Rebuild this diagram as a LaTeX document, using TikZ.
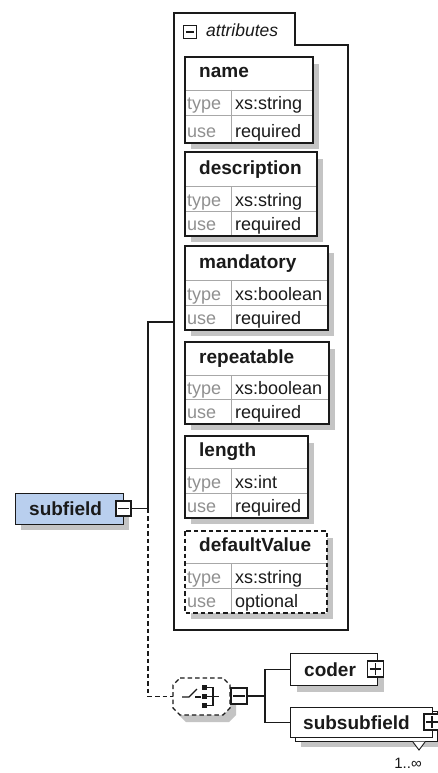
\documentclass[tikz,border=0pt]{standalone}
\usepackage{fontspec}
\setmainfont{Liberation Sans}
\definecolor{lnc}{HTML}{1A1A1A}
\definecolor{shdc}{HTML}{C4C4C4}
\definecolor{rowc}{HTML}{A8A8A8}
\definecolor{typc}{HTML}{909090}
\definecolor{bluef}{HTML}{B9CFEE}
\def\bxdash{solid}
\newcommand\attrbox[9]{%
  \fill[shdc] (191,#2+7) rectangle (#6+6,#5+6);
  \fill[white] (185,#2) rectangle (#6,#5);
  \draw[rowc,line width=0.9pt] (185,#3) -- (#6,#3);
  \draw[rowc,line width=0.9pt] (185,#4) -- (#6,#4);
  \draw[rowc,line width=0.9pt] (231,#3) -- (231,#5);
  \draw[lnc,line width=1.3pt,\bxdash] (185,#2) rectangle (#6,#5);
  \node[lbl] (#1-l) at (199,#3-12) {#7};
  \node[typ] (#1-t) at (187,#4-5) {type};
  \node[val] (#1-v) at (235,#4-5) {#8};
  \node[typ] (#1-u) at (187,#5-6) {use};
  \node[val] (#1-w) at (235,#5-6) {#9};
}
\begin{document}
\begin{tikzpicture}[x=1pt,y=-1pt,
  lbl/.style={anchor=base west,inner sep=0pt,font=\fontsize{19}{22}\selectfont\bfseries,text=lnc},
  typ/.style={anchor=base west,inner sep=0pt,font=\fontsize{18}{21}\selectfont,text=typc},
  val/.style={anchor=base west,inner sep=0pt,font=\fontsize{18}{21}\selectfont,text=lnc},
  ln/.style={draw=lnc,line width=1.3pt},
  dsh/.style={dash pattern=on 4.5pt off 3pt},
  boxn/.style={draw=lnc,line width=1.3pt,fill=white,inner sep=0pt,anchor=north west},
  pmbox/.style={draw=lnc,line width=1.2pt,fill=white,inner sep=0pt,minimum width=#1,minimum height=#1},
]
\useasboundingbox (0,0) rectangle (438,773);
\fill[white] (0,0) rectangle (438,773);

% attributes container
\draw[lnc,line width=1.4pt] (174,630) -- (174,13) -- (295,13) -- (295,45) -- (348,45) -- (348,630) -- cycle;
\coordinate (attrsL) at (174,322);
\node[pmbox=13pt] (attmin) at (190,32) {};
\draw[lnc,line width=1.1pt] ([xshift=3pt]attmin.west) -- ([xshift=-3pt]attmin.east);
\node[anchor=base west,inner sep=0pt,font=\fontsize{17.5}{20}\selectfont\itshape,text=lnc] (attlbl) at (206,37) {attributes};

\attrbox{name}{57}{90}{115}{143}{313}{name}{xs:string}{required}
\attrbox{desc}{152}{186}{211}{236}{317}{description}{xs:string}{required}
\attrbox{mand}{246}{280}{305}{330}{328}{mandatory}{xs:boolean}{required}
\attrbox{rep}{342}{375}{399}{424}{329}{repeatable}{xs:boolean}{required}
\attrbox{len}{436}{468}{493}{518}{308}{length}{xs:int}{required}
\def\bxdash{dsh}
\attrbox{defv}{531}{563}{588}{613}{327}{defaultValue}{xs:string}{optional}

% subfield
\fill[shdc] (21,500) rectangle (129,530);
\node[boxn,fill=bluef,minimum width=108pt,minimum height=31pt] (subfield) at (15,493) {};
\node[lbl] (subfield-l) at (29,515) {subfield};
\node[pmbox=15pt] (sfmin) at (123.5,508.5) {};
\draw[lnc,line width=1.1pt] ([xshift=3pt]sfmin.west) -- ([xshift=-3pt]sfmin.east);

\coordinate (j1) at (148,508.5);
\draw[ln] (sfmin.east) -- (j1) |- (attrsL);

% sequence compositor
\fill[shdc] (186,685) -- (229,685) -- (236,692) -- (236,715) -- (229,722) -- (186,722) -- (179,715) -- (179,692) -- cycle;
\fill[white] (180,678) -- (223,678) -- (230,685) -- (230,708) -- (223,715) -- (180,715) -- (173,708) -- (173,685) -- cycle;
\draw[lnc,line width=1.2pt,dsh] (180,678) -- (223,678) -- (230,685) -- (230,708) -- (223,715) -- (180,715) -- (173,708) -- (173,685) -- cycle;
\node[inner sep=0pt,minimum width=57pt,minimum height=37pt] (seq) at (201.5,696.5) {};
\draw[lnc,line width=1.2pt] (182,697) -- (189,697) -- (197,689);
\draw[lnc,line width=1.2pt] (195,697) -- (201,697);
\fill[lnc] (202,685) rectangle (207,690);
\fill[lnc] (202,694) rectangle (207,699);
\fill[lnc] (202,703) rectangle (207,708);
\draw[lnc,line width=1.1pt] (207,687.5) -- (213,687.5) -- (213,705.5) -- (207,705.5);
\draw[lnc,line width=1.1pt] (207,696.5) -- (219,696.5);
\node[pmbox=16pt] (seqmin) at (239,696) {};
\draw[lnc,line width=1.1pt] ([xshift=3pt]seqmin.west) -- ([xshift=-3pt]seqmin.east);
\draw[lnc,line width=1.2pt,dsh] (j1) |- (seq.west);

% coder
\fill[shdc] (297,660) rectangle (384,692);
\node[boxn,minimum width=87pt,minimum height=32pt] (coder) at (290,653) {};
\node[lbl] (coder-l) at (304,676) {coder};
\node[pmbox=16pt] (codpl) at (375.5,669) {};
\draw[lnc,line width=1.1pt] ([xshift=3pt]codpl.west) -- ([xshift=-3pt]codpl.east);
\draw[lnc,line width=1.1pt] ([yshift=-3pt]codpl.north) -- ([yshift=3pt]codpl.south);

% subsubfield (multiple)
\fill[shdc] (301,717) rectangle (443,747);
\node[boxn,minimum width=142pt,minimum height=30pt] (subsubB) at (295,711) {};
\node[boxn,minimum width=142pt,minimum height=30pt] (subsub) at (290,707) {};
\node[lbl] (subsub-l) at (303,729) {subsubfield};
\node[pmbox=16pt] (sspl) at (432,722) {};
\draw[lnc,line width=1.1pt] ([xshift=3pt]sspl.west) -- ([xshift=-3pt]sspl.east);
\draw[lnc,line width=1.1pt] ([yshift=-3pt]sspl.north) -- ([yshift=3pt]sspl.south);
\fill[white] (413,741.6) -- (425,741.6) -- (419,750) -- cycle;
\draw[lnc,line width=0.9pt] (413,742) -- (419,750) -- (425,742);
\node[anchor=base,inner sep=0pt,font=\fontsize{15}{17}\selectfont,text=lnc] (mult) at (408,768) {1..∞};

\coordinate (j2) at (265,696);
\draw[ln] (seqmin.east) -- (j2);
\draw[ln] (j2) |- (coder.west);
\draw[ln] (j2) |- (subsub.west);
\end{tikzpicture}
\end{document}
